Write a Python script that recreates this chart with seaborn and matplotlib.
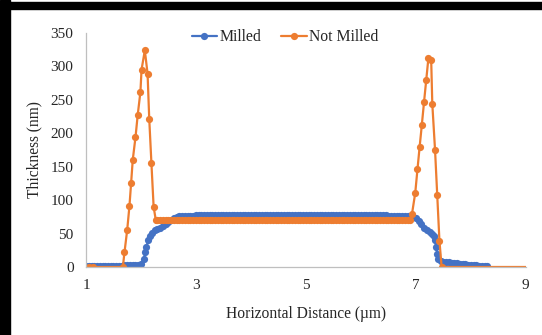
import numpy as np
import pandas as pd
import matplotlib
matplotlib.use('Agg')
import matplotlib.pyplot as plt
import seaborn as sns
from matplotlib.patches import Rectangle

# Milled profile
milled_x = [1.0, 1.05, 1.1, 1.15, 1.2, 1.25, 1.3, 1.35, 1.4, 1.45, 1.5,
            1.55, 1.6, 1.65, 1.7, 1.75, 1.8, 1.85, 1.9, 1.95, 2.0,
            2.05, 2.08, 2.1, 2.13, 2.16, 2.2, 2.25, 2.3, 2.35, 2.4, 2.45,
            2.5, 2.55, 2.6, 2.65, 2.7, 2.75, 2.8, 2.85, 2.9, 2.95, 3.0,
            3.05, 3.1, 3.15, 3.2, 3.25, 3.3, 3.35, 3.4, 3.45, 3.5, 3.55,
            3.6, 3.65, 3.7, 3.75, 3.8, 3.85, 3.9, 3.95, 4.0, 4.05, 4.1,
            4.15, 4.2, 4.25, 4.3, 4.35, 4.4, 4.45, 4.5, 4.55, 4.6, 4.65,
            4.7, 4.75, 4.8, 4.85, 4.9, 4.95, 5.0, 5.05, 5.1, 5.15, 5.2,
            5.25, 5.3, 5.35, 5.4, 5.45, 5.5, 5.55, 5.6, 5.65, 5.7, 5.75,
            5.8, 5.85, 5.9, 5.95, 6.0, 6.05, 6.1, 6.15, 6.2, 6.25, 6.3,
            6.35, 6.4, 6.45, 6.5, 6.55, 6.6, 6.65, 6.7, 6.75, 6.8, 6.85,
            6.9, 6.95, 7.0, 7.05, 7.1, 7.15, 7.2, 7.25, 7.3, 7.33, 7.35,
            7.37, 7.39, 7.41, 7.45, 7.5, 7.55, 7.6, 7.65, 7.7, 7.75, 7.8,
            7.85, 7.9, 7.95, 8.0, 8.05, 8.1, 8.15, 8.2, 8.25, 8.29]
milled_y = [1, 1, 1, 1, 1, 1, 1.5, 1.5, 1.5, 1.5, 2,
            2, 2, 2, 2.5, 2.5, 3, 3, 3.5, 3.5, 4,
            12, 22, 30, 40, 47, 51, 55, 57, 59, 61, 64,
            67, 71, 74, 75, 76, 76.5, 77, 77, 77, 77, 77.5,
            77.5, 77.5, 77.5, 78, 78, 78, 78, 78, 78, 78, 78,
            78, 78, 78, 78, 78, 78, 78, 78, 78, 78, 78,
            78, 78, 78, 78, 78, 78, 78, 78, 78, 78, 78,
            78, 78, 78, 78, 78, 78, 78, 78, 78, 78, 78,
            78, 78, 78, 78, 78, 78, 78, 78, 78, 78, 78,
            78, 78, 78, 78, 78, 78, 78, 77.5, 77.5, 77.5, 77.5,
            77.5, 77.5, 77.5, 77, 77, 77, 77, 77, 77, 76.5, 76.5,
            76, 75, 73, 69, 64, 59, 55, 52, 49, 46, 40,
            30, 20, 12, 9, 8, 7.5, 7, 6.5, 6, 5.5, 5,
            4.5, 4, 3.5, 3, 2.8, 2.5, 2.2, 2, 1.5, 1]

# Not milled profile
notmilled_x = [1.06, 1.13, 1.67, 1.70, 1.75, 1.79, 1.82, 1.85, 1.90, 1.94,
               1.99, 2.01, 2.07, 2.12, 2.15, 2.19, 2.23, 2.27,
               2.3, 2.35, 2.4, 2.45, 2.5, 2.55, 2.6, 2.65, 2.7, 2.75, 2.8,
               2.85, 2.9, 2.95, 3.0, 3.05, 3.1, 3.15, 3.2, 3.25, 3.3, 3.35,
               3.4, 3.45, 3.5, 3.55, 3.6, 3.65, 3.7, 3.75, 3.8, 3.85, 3.9,
               3.95, 4.0, 4.05, 4.1, 4.15, 4.2, 4.25, 4.3, 4.35, 4.4, 4.45,
               4.5, 4.55, 4.6, 4.65, 4.7, 4.75, 4.8, 4.85, 4.9, 4.95, 5.0,
               5.05, 5.1, 5.15, 5.2, 5.25, 5.3, 5.35, 5.4, 5.45, 5.5, 5.55,
               5.6, 5.65, 5.7, 5.75, 5.8, 5.85, 5.9, 5.95, 6.0, 6.05, 6.1,
               6.15, 6.2, 6.25, 6.3, 6.35, 6.4, 6.45, 6.5, 6.55, 6.6, 6.65,
               6.7, 6.75, 6.8, 6.85, 6.9,
               6.93, 6.99, 7.03, 7.07, 7.11, 7.15, 7.19, 7.23, 7.28, 7.30,
               7.35, 7.39, 7.43, 7.47, 9.0]
notmilled_y = [0, 0, 0, 22, 56, 91, 125, 160, 194, 227,
               262, 295, 324, 289, 222, 155, 90, 70,
               70, 70, 70, 70, 70, 70, 70, 70, 70, 70, 70,
               70, 70, 70, 70, 70, 70, 70, 70, 70, 70, 70,
               70, 70, 70, 70, 70, 70, 70, 70, 70, 70, 70,
               70, 71, 71, 70, 70, 70, 70, 70, 70, 70, 70,
               70, 70, 70, 70, 70, 70, 70, 70, 70, 70, 70,
               70, 70, 70, 70, 70, 70, 70, 70, 70, 70, 70,
               70, 70, 70, 70, 70, 70, 70, 70, 70, 70, 70,
               70, 70, 70, 70, 70, 70, 70, 70, 70, 70, 70,
               70, 70, 70, 70, 70,
               79, 111, 146, 180, 213, 247, 280, 313, 309, 244,
               175, 107, 39, 0, 0]

blue = '#4472C4'
orange = '#ED7D31'

sns.set_style('white')
plt.rcParams['font.family'] = ['Liberation Serif', 'DejaVu Serif']

fig = plt.figure(figsize=(5.42, 3.35), dpi=100)
ax = fig.add_axes([0.1587, 0.203, 0.8113, 0.6985])

sns.lineplot(x=milled_x, y=milled_y, ax=ax, color=blue, marker='o',
             markersize=5.2, markeredgewidth=0, linewidth=1.6,
             estimator=None, sort=False, label='Milled')
sns.lineplot(x=notmilled_x, y=notmilled_y, ax=ax, color=orange, marker='o',
             markersize=5.2, markeredgewidth=0, linewidth=1.6,
             estimator=None, sort=False, label='Not Milled',
             markevery=list(range(len(notmilled_x) - 1)))

ax.set_xlim(1, 9)
ax.set_ylim(0, 350)
ax.set_xticks([1, 3, 5, 7, 9])
ax.set_yticks(range(0, 351, 50))
ax.tick_params(length=0, labelsize=11, pad=9)
for s in ['top', 'right']:
    ax.spines[s].set_visible(False)
for s in ['left', 'bottom']:
    ax.spines[s].set_color('#bfbfbf')
    ax.spines[s].set_linewidth(0.9)

ax.set_xlabel('Horizontal Distance (µm)', fontsize=11.2, labelpad=10)
ax.set_ylabel('Thickness (nm)', fontsize=11.2, labelpad=6)

ax.legend(loc='center', bbox_to_anchor=(0.4526, 0.982), ncol=2,
          frameon=False, fontsize=11.3, handlelength=1.6, handletextpad=0.15,
          columnspacing=1.3, borderaxespad=0)

# picture frame
fig.patches.append(Rectangle((0, 0), 10 / 542, 1, transform=fig.transFigure,
                             color='black', zorder=10))
fig.patches.append(Rectangle((0, 1 - 9 / 335), 1, 7 / 335, transform=fig.transFigure,
                             color='black', zorder=10))

fig.savefig('out.png', dpi=100, facecolor='white')
